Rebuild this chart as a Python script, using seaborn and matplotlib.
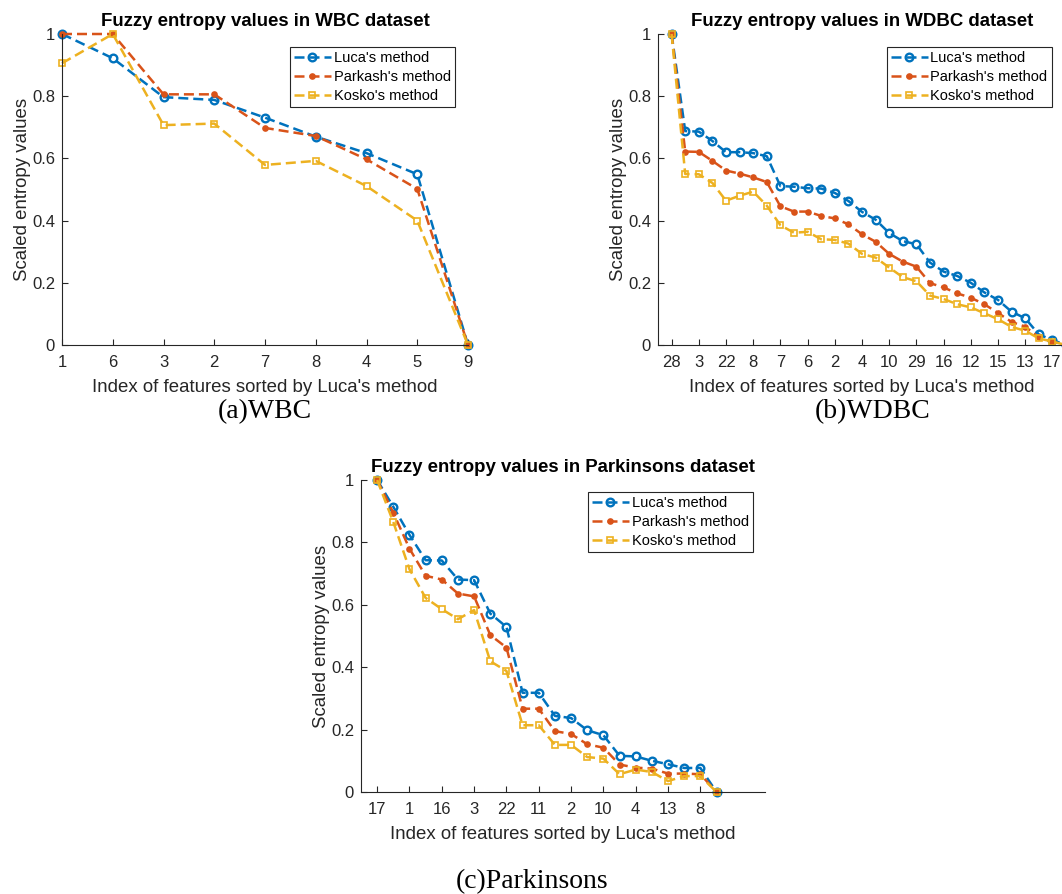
import numpy as np
import matplotlib
matplotlib.use("Agg")
import matplotlib.pyplot as plt
from matplotlib.ticker import FuncFormatter
import seaborn as sns

# ---------------- data ----------------
wbc_labels = ["1", "6", "3", "2", "7", "8", "4", "5", "9"]
wbc_luca = [1.0, 0.922, 0.797, 0.788, 0.731, 0.670, 0.617, 0.549, 0.0]
wbc_parkash = [1.0, 1.0, 0.806, 0.806, 0.698, 0.672, 0.597, 0.502, 0.0]
wbc_kosko = [0.906, 1.0, 0.707, 0.712, 0.579, 0.592, 0.511, 0.400, 0.0]

wdbc_labels = ["28", "3", "22", "8", "7", "6", "2", "4", "10", "29",
               "16", "12", "15", "13", "17"]  # labels at odd positions
wdbc_luca = [1.0, 0.688, 0.686, 0.656, 0.620, 0.620, 0.617, 0.607, 0.511, 0.509,
             0.504, 0.503, 0.489, 0.463, 0.428, 0.403, 0.360, 0.334, 0.324, 0.265,
             0.236, 0.222, 0.200, 0.169, 0.145, 0.107, 0.086, 0.034, 0.016, 0.0]
wdbc_parkash = [1.0, 0.622, 0.621, 0.592, 0.561, 0.551, 0.539, 0.524, 0.446, 0.429,
                0.429, 0.415, 0.407, 0.388, 0.356, 0.332, 0.293, 0.268, 0.252, 0.199,
                0.185, 0.166, 0.152, 0.131, 0.103, 0.074, 0.059, 0.025, 0.010, 0.0]
wdbc_kosko = [1.0, 0.550, 0.549, 0.521, 0.464, 0.480, 0.493, 0.448, 0.385, 0.361,
              0.364, 0.340, 0.338, 0.326, 0.293, 0.281, 0.249, 0.218, 0.205, 0.159,
              0.148, 0.131, 0.121, 0.102, 0.083, 0.058, 0.046, 0.021, 0.011, 0.0]

park_labels = ["17", "1", "16", "3", "22", "11", "2", "10", "4", "13", "8"]  # odd positions
park_luca = [1.0, 0.914, 0.824, 0.743, 0.742, 0.681, 0.679, 0.572, 0.529, 0.318,
             0.318, 0.244, 0.237, 0.198, 0.182, 0.116, 0.114, 0.100, 0.089, 0.077,
             0.077, 0.0]
park_parkash = [1.0, 0.895, 0.780, 0.693, 0.681, 0.636, 0.627, 0.503, 0.463, 0.267,
                0.267, 0.195, 0.186, 0.153, 0.142, 0.088, 0.078, 0.075, 0.059, 0.059,
                0.057, 0.0]
park_kosko = [1.0, 0.865, 0.714, 0.622, 0.586, 0.554, 0.583, 0.419, 0.388, 0.214,
              0.214, 0.151, 0.151, 0.112, 0.107, 0.057, 0.072, 0.064, 0.035, 0.051,
              0.051, 0.0]

series_names = ["Luca's method", "Parkash's method", "Kosko's method"]
titles = ["Fuzzy entropy values in WBC dataset",
          "Fuzzy entropy values in WDBC dataset",
          "Fuzzy entropy values in Parkinsons dataset"]
captions = ["(a)WBC", "(b)WDBC", "(c)Parkinsons"]
xlabel = "Index of features sorted by Luca's method"
ylabel = "Scaled entropy values"

# ---------------- style ----------------
sns.set_theme(style="white")
plt.rcParams["font.family"] = ["Liberation Sans", "DejaVu Sans"]
AX_COL = "#262626"
colors = ["#0072BD", "#D95319", "#EDB120"]
mstyles = [dict(marker="o", markersize=5.5, markerfacecolor="none", markeredgewidth=1.7),
           dict(marker="o", markersize=4.8, markeredgewidth=0),
           dict(marker="s", markersize=3.8, markerfacecolor="none", markeredgewidth=1.2)]

W, H = 1062, 894
fig = plt.figure(figsize=(W / 100, H / 100), dpi=100)


def px_axes(left, right, top, bottom):
    return fig.add_axes([left / W, 1 - bottom / H, (right - left) / W, (bottom - top) / H])


def draw(ax, series, xlim, tick_pos, tick_labels, title, legend_anchor):
    x = np.arange(1, len(series[0]) + 1)
    for vals, name, c, ms in zip(series, series_names, colors, mstyles):
        sns.lineplot(x=x, y=vals, ax=ax, color=c, linestyle="--", linewidth=1.8,
                     sort=False, label=name, markeredgecolor=c,
                     clip_on=False, **ms)
        ax.lines[-1].set_linestyle((0, (4.0, 2.0)))
    ax.set_xlim(*xlim)
    ax.set_ylim(0, 1)
    ax.set_yticks([0, 0.2, 0.4, 0.6, 0.8, 1.0])
    ax.yaxis.set_major_formatter(FuncFormatter(lambda v, p: "%g" % round(v, 2)))
    ax.set_xticks(tick_pos)
    ax.set_xticklabels(tick_labels)
    for s in ["top", "right"]:
        ax.spines[s].set_visible(False)
    for s in ["left", "bottom"]:
        ax.spines[s].set_color(AX_COL)
        ax.spines[s].set_linewidth(0.8)
    ax.tick_params(axis="both", direction="in", length=4, width=0.8, colors=AX_COL,
                   labelsize=12, left=True, bottom=True)
    ax.tick_params(axis="x", pad=7.5)
    ax.tick_params(axis="y", pad=5)
    ax.set_xlabel(xlabel, fontsize=13.4, color=AX_COL, labelpad=6.5)
    ax.set_ylabel(ylabel, fontsize=13.4, color=AX_COL, labelpad=1)
    ax.set_title(title, fontsize=13.4, fontweight="bold", color="black", pad=6)
    leg = ax.legend(loc="upper right", bbox_to_anchor=legend_anchor,
                    bbox_transform=fig.transFigure, borderaxespad=0, fontsize=10.5,
                    frameon=True, fancybox=False, framealpha=1, handlelength=2.5,
                    handletextpad=0.2, borderpad=0.3, labelspacing=0.33)
    leg.get_frame().set_edgecolor(AX_COL)
    leg.get_frame().set_linewidth(0.8)
    for t in leg.get_texts():
        t.set_color("black")


ax1 = px_axes(62, 468, 34, 345)
draw(ax1, [wbc_luca, wbc_parkash, wbc_kosko], (1, 9), np.arange(1, 10), wbc_labels,
     titles[0], (455 / W, 1 - 47 / H))

ax2 = px_axes(658, 1066, 34, 345)
draw(ax2, [wdbc_luca, wdbc_parkash, wdbc_kosko], (0, 30), np.arange(1, 30, 2), wdbc_labels,
     titles[1], (1052 / W, 1 - 47 / H))

ax3 = px_axes(361, 765, 480, 792)
draw(ax3, [park_luca, park_parkash, park_kosko], (0, 25), np.arange(1, 22, 2), park_labels,
     titles[2], (753 / W, 1 - 492 / H))

cap_kw = dict(ha="center", va="center", fontsize=20, family=["Liberation Serif", "DejaVu Serif"],
              color="black")
fig.text(265 / W, 1 - 412 / H, captions[0], **cap_kw)
fig.text(873 / W, 1 - 412 / H, captions[1], **cap_kw)
fig.text(532 / W, 1 - 882 / H, captions[2], **cap_kw)

fig.savefig("out.png", dpi=100, facecolor="white")
